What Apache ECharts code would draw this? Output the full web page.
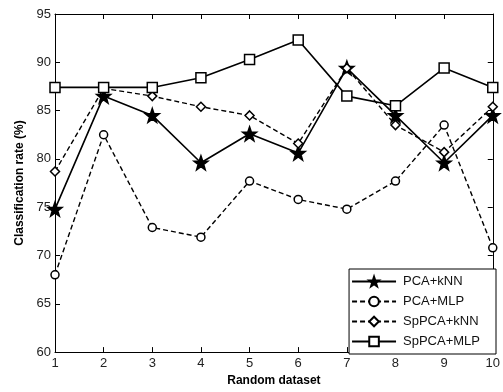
<!DOCTYPE html>
<html>
<head>
<meta charset="utf-8">
<script src="https://cdn.jsdelivr.net/npm/echarts@6/dist/echarts.min.js"></script>
<style>
  body { margin: 0; background: #fff; }
  #chart { width: 503px; height: 392px; }
</style>
</head>
<body>
<div id="chart"></div>
<script>
// data
let datasets = [1, 2, 3, 4, 5, 6, 7, 8, 9, 10];
let pcaKnn = [74.8, 86.5, 84.5, 79.6, 82.6, 80.6, 89.4, 84.5, 79.6, 84.5];
let pcaMlp = [68.0, 82.5, 72.9, 71.9, 77.7, 75.8, 74.8, 77.7, 83.5, 70.8];
let spKnn = [78.7, 87.3, 86.5, 85.4, 84.5, 81.6, 89.4, 83.5, 80.7, 85.4];
let spMlp = [87.4, 87.4, 87.4, 88.4, 90.3, 92.3, 86.5, 85.5, 89.4, 87.4];

let star = 'path://M50 0 L61.8 33.8 L97.6 34.5 L69 56.2 L79.4 90.5 L50 70 L20.6 90.5 L31 56.2 L2.4 34.5 L38.2 33.8 Z';
let font = 'Liberation Sans';

function pairs(vals)
{
    let out = [];
    for (let [i, v] of vals.entries())
    {
        out.push([datasets[i], v]);
    }
    return out;
}

function make_series(name, vals, symbol, dash, filled, size)
{
    return {
        name: name,
        type: 'line',
        data: pairs(vals),
        symbol: symbol,
        symbolSize: size,
        showSymbol: true,
        animation: false,
        lineStyle: { color: '#000', width: dash === 'solid' ? 1.6 : 1.4, type: dash },
        itemStyle: { color: filled ? '#000' : '#fff', borderColor: '#000', borderWidth: 1.5 }
    };
}

var myChart = echarts.init(document.getElementById('chart'));

let axisCommon = {
    type: 'value',
    axisLine: { show: true, lineStyle: { color: '#000', width: 1 } },
    axisTick: { show: true, inside: true, length: 5, lineStyle: { color: '#000' } },
    splitLine: { show: false }
};

let option = {
    backgroundColor: '#fff',
    animation: false,
    grid: { left: 55, right: 7, top: 14, bottom: 35, show: false },
    legend: {
        orient: 'vertical',
        right: 7,
        top: 269,
        itemWidth: 44,
        itemHeight: 12,
        itemGap: 7,
        padding: [6, 16, 6, 2],
        borderColor: '#000',
        borderWidth: 1,
        backgroundColor: '#fff',
        textStyle: { fontFamily: font, fontSize: 13, color: '#111', padding: [0, 0, 0, 2] },
        data: ['PCA+kNN', 'PCA+MLP', 'SpPCA+kNN', 'SpPCA+MLP']
    },
    xAxis: [
        Object.assign({}, axisCommon, {
            min: 1, max: 10, interval: 1,
            name: 'Random dataset',
            nameLocation: 'middle',
            nameGap: 22,
            nameTextStyle: { fontFamily: font, fontSize: 12, fontWeight: 'bold', color: '#000' },
            axisLabel: { fontFamily: font, fontSize: 13, color: '#222', margin: 5 }
        }),
        Object.assign({}, axisCommon, {
            position: 'top', min: 1, max: 10, interval: 1,
            axisLabel: { show: false }
        })
    ],
    yAxis: [
        Object.assign({}, axisCommon, {
            min: 60, max: 95, interval: 5,
            name: 'Classification rate (%)',
            nameLocation: 'middle',
            nameGap: 28,
            nameTextStyle: { fontFamily: font, fontSize: 12, fontWeight: 'bold', color: '#000' },
            axisLabel: { fontFamily: font, fontSize: 13, color: '#222', margin: 4 }
        }),
        Object.assign({}, axisCommon, {
            position: 'right', min: 60, max: 95, interval: 5,
            axisLabel: { show: false }
        })
    ],
    series: [
        make_series('PCA+kNN', pcaKnn, star, 'solid', true, 14),
        make_series('PCA+MLP', pcaMlp, 'circle', [5, 3], false, 8),
        make_series('SpPCA+kNN', spKnn, 'diamond', [5, 3], false, 9),
        make_series('SpPCA+MLP', spMlp, 'rect', 'solid', false, 10)
    ]
};

myChart.setOption(option);
</script>
</body>
</html>
